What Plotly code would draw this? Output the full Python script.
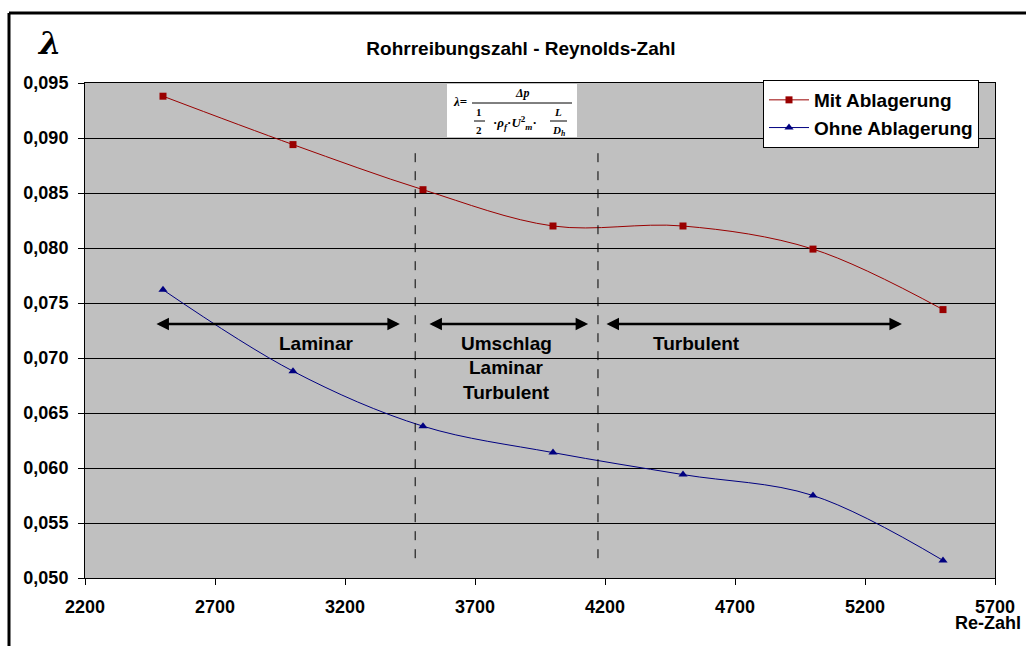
import plotly.graph_objects as go

# ---- data ----
re_zahl = [2500, 3000, 3500, 4000, 4500, 5000, 5500]
mit_ablagerung = [0.0938, 0.0894, 0.0853, 0.0820, 0.0820, 0.0799, 0.0744]
ohne_ablagerung = [0.0762, 0.0688, 0.0638, 0.0614, 0.0594, 0.0575, 0.0516]
x_ticks = [2200, 2700, 3200, 3700, 4200, 4700, 5200, 5700]
y_ticks = [0.050, 0.055, 0.060, 0.065, 0.070, 0.075, 0.080, 0.085, 0.090, 0.095]
boundaries = [3470, 4173]
boundary_span = [0.0518, 0.0889]
region_arrows = [(2469, 3411), (3519, 4135), (4200, 5342)]
arrow_level = 0.0731
region_labels = [("Laminar", 3092, 0.0713), ("Umschlag", 3823, 0.0713),
                 ("Laminar", 3823, 0.0691), ("Turbulent", 3823, 0.0669),
                 ("Turbulent", 4550, 0.0713)]

FONT = "Liberation Sans"
W, H = 1026, 646
L, R, T, B = 85, 31, 83, 68
PW, PH = W - L - R, H - T - B


def px(xp):
    return (xp - L) / PW


def py(yp):
    return (H - B - yp) / PH


fig = go.Figure()
fig.add_trace(go.Scatter(
    x=re_zahl, y=mit_ablagerung, name="Mit Ablagerung", mode="lines+markers",
    line=dict(color="#990000", width=1, shape="spline", smoothing=1.0),
    marker=dict(symbol="square", size=7, color="#990000")))
fig.add_trace(go.Scatter(
    x=re_zahl, y=ohne_ablagerung, name="Ohne Ablagerung", mode="lines+markers",
    line=dict(color="#000080", width=1, shape="spline", smoothing=1.0),
    marker=dict(symbol="triangle-up", size=8, color="#000080")))

shapes = []
for bx in boundaries:
    shapes.append(dict(type="line", xref="x", yref="y", x0=bx, x1=bx,
                       y0=boundary_span[0], y1=boundary_span[1],
                       line=dict(color="black", width=1, dash="dash")))
# formula box
shapes.append(dict(type="rect", xref="paper", yref="paper",
                   x0=px(447), x1=px(577), y0=py(137), y1=py(84),
                   fillcolor="white", line=dict(width=0), layer="above"))
# fraction lines
shapes.append(dict(type="line", xref="paper", yref="paper", x0=px(472), x1=px(572),
                   y0=py(103), y1=py(103), line=dict(color="black", width=1)))
shapes.append(dict(type="line", xref="paper", yref="paper", x0=px(474), x1=px(485),
                   y0=py(121), y1=py(121), line=dict(color="black", width=1)))
shapes.append(dict(type="line", xref="paper", yref="paper", x0=px(550), x1=px(567),
                   y0=py(121), y1=py(121), line=dict(color="black", width=1)))
# outer chart border (top + left)
shapes.append(dict(type="line", xref="paper", yref="paper", x0=px(9), x1=px(1026),
                   y0=py(13), y1=py(13), line=dict(color="black", width=3)))
shapes.append(dict(type="line", xref="paper", yref="paper", x0=px(9), x1=px(9),
                   y0=py(13), y1=py(650), line=dict(color="black", width=3)))

annotations = []
for (a0, a1) in region_arrows:
    annotations.append(dict(x=a1, y=arrow_level, ax=a0, ay=arrow_level,
                            xref="x", yref="y", axref="x", ayref="y", text="",
                            showarrow=True, arrowhead=2, arrowsize=1, arrowwidth=2.5,
                            arrowside="end+start", arrowcolor="black"))
for (txt, lx, ly) in region_labels:
    annotations.append(dict(x=lx, y=ly, xref="x", yref="y", text=txt,
                            xanchor="center", yanchor="middle", showarrow=False,
                            font=dict(family=FONT, size=19, color="black", weight="bold")))


def fa(txt, xp, yp, size=10, family="Liberation Serif"):
    annotations.append(dict(x=px(xp), y=py(yp), xref="paper", yref="paper",
                            xanchor="center", yanchor="middle",
                            text=txt, showarrow=False,
                            font=dict(family=family, size=size, color="black",
                                      weight="bold")))


fa("<i>λ</i>=", 460, 101, 13)
fa("<i>Δp</i>", 522, 93, 12)
fa("1", 479, 112, 11)
fa("2", 479, 130, 11)
fa("·<i>ρ<sub>f</sub></i>·<i>U</i><sup>2</sup><sub><i>m</i></sub>·", 515, 123, 13)
fa("<i>L</i>", 558, 112, 11)
fa("<i>D<sub>h</sub></i>", 558, 131, 11)

# lambda axis label
fa("<i>λ</i>", 49, 43, 32, "DejaVu Serif")
# Re-Zahl label
annotations.append(dict(x=px(988), y=py(623), xref="paper", yref="paper",
                        xanchor="center", yanchor="middle",
                        text="Re-Zahl", showarrow=False,
                        font=dict(family=FONT, size=18, color="black", weight="bold")))

fig.update_layout(
    width=W, height=H,
    margin=dict(l=L, r=R, t=T, b=B),
    paper_bgcolor="white", plot_bgcolor="#C0C0C0",
    separators=",.",
    title=dict(text="Rohrreibungszahl - Reynolds-Zahl", xref="paper", x=px(521),
               xanchor="center", y=1 - 48 / H, yanchor="middle",
               font=dict(family=FONT, size=19, color="black", weight="bold")),
    font=dict(family=FONT, color="black"),
    showlegend=True,
    legend=dict(x=px(763), y=py(80), xanchor="left", yanchor="top",
                bgcolor="white", bordercolor="black", borderwidth=1,
                font=dict(family=FONT, size=19, color="black", weight="bold"),
                itemwidth=40),
    xaxis=dict(range=[2200, 5700], tickvals=x_ticks, tickformat="d",
               showgrid=False, zeroline=False, ticks="outside", ticklen=6,
               tickcolor="black", showline=True, linecolor="black", linewidth=1,
               mirror=True,
               tickfont=dict(family=FONT, size=18, color="black", weight="bold"),
               ticklabelstandoff=6),
    yaxis=dict(range=[0.050, 0.095], tickvals=y_ticks, tickformat=".3f",
               showgrid=True, gridcolor="black", gridwidth=1, zeroline=False,
               ticks="outside", ticklen=6, tickcolor="black",
               showline=True, linecolor="black", linewidth=1, mirror=True,
               tickfont=dict(family=FONT, size=18, color="black", weight="bold"),
               ticklabelstandoff=6),
    shapes=shapes, annotations=annotations,
)

fig.write_html("out.html")
